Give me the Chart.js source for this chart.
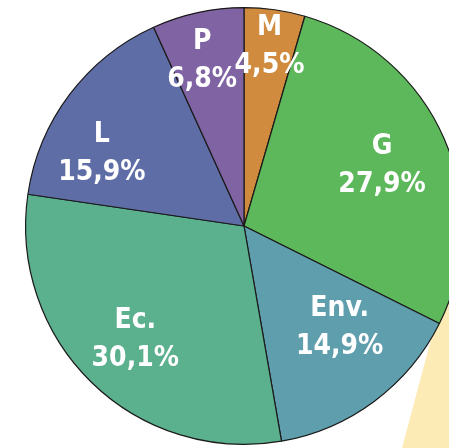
<!DOCTYPE html>
<html>
<head>
<meta charset="utf-8">
<script src="https://cdn.jsdelivr.net/npm/chart.js@4"></script>
<style>
    html, body { margin: 0; padding: 0; width: 449px; height: 448px; overflow: hidden; background: #fff; }
    #backdrop {
        position: absolute; left: 0; top: 0; width: 449px; height: 448px;
        background: #FDEBB6;
        clip-path: polygon(402px 448px, 449px 448px, 449px 272px);
    }
    #wrap { position: absolute; left: 0; top: 0; width: 488px; height: 452px; }
</style>
</head>
<body>
<div id="backdrop"></div>
<div id="wrap"><canvas id="pie"></canvas></div>
<script>
// Share per theme, clockwise from 12 o'clock
const labels = ['M', 'G', 'Env.', 'Ec.', 'L', 'P'];
const shares = [4.5, 27.9, 14.9, 30.1, 15.9, 6.8];
const colors = ['#D08B3F', '#5DB75B', '#5F9EAD', '#5BB08E', '#5F6DA7', '#8063A3'];

// Label placement: fraction of radius and angle nudge (degrees)
const labelRadius = [0.83, 0.69, 0.64, 0.72, 0.73, 0.78];
const labelNudge = [0, 0, -6.5, -0.5, -10, -2];

const sliceLabels = {
    id: 'sliceLabels',
    afterDatasetsDraw(chart) {
        const ctx = chart.ctx;
        const meta = chart.getDatasetMeta(0);
        ctx.save();
        ctx.fillStyle = '#fff';
        ctx.textAlign = 'center';
        ctx.textBaseline = 'middle';
        ctx.font = 'bold 28px "DejaVu Sans Condensed", "DejaVu Sans", sans-serif';
        meta.data.forEach((arc, i) => {
            const mid = (arc.startAngle + arc.endAngle) / 2 + labelNudge[i] * Math.PI / 180;
            const r = arc.outerRadius * labelRadius[i];
            const x = arc.x + Math.cos(mid) * r;
            const y = arc.y + Math.sin(mid) * r;
            ctx.fillText(labels[i], x, y - 19);
            ctx.fillText(shares[i].toFixed(1).replace('.', ',') + '%', x, y + 19);
        });
        ctx.restore();
    }
};

new Chart(document.getElementById('pie'), {
    type: 'pie',
    data: {
        labels: labels,
        datasets: [{
            data: shares,
            backgroundColor: colors,
            borderColor: '#1a1a1a',
            borderWidth: 1.2
        }]
    },
    options: {
        responsive: true,
        maintainAspectRatio: false,
        animation: false,
        layout: { padding: 7 },
        plugins: {
            legend: { display: false },
            tooltip: { enabled: false }
        }
    },
    plugins: [sliceLabels]
});
</script>
</body>
</html>
